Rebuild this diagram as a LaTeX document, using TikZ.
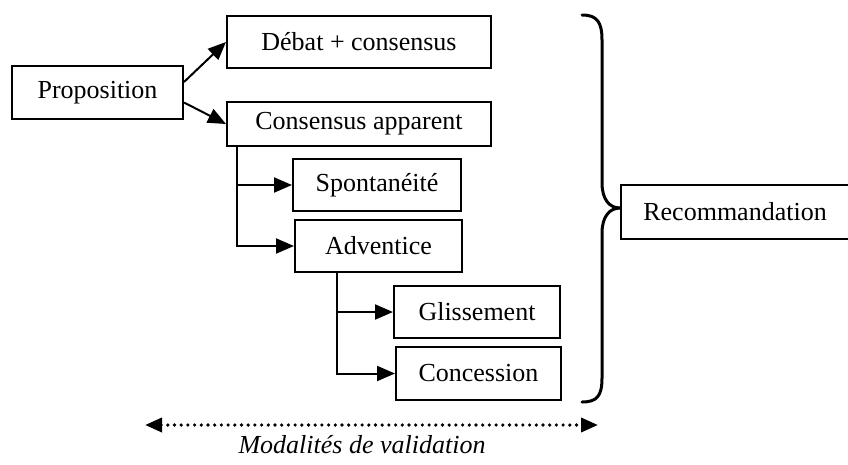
\documentclass[tikz,border=0pt]{standalone}
\usepackage{fontspec}
\setmainfont{Liberation Serif}
\usetikzlibrary{arrows.meta,calc}
\begin{document}
\begin{tikzpicture}[x=1pt,y=-1pt,
  box/.style={draw,line width=2pt,inner sep=0pt,minimum width=#1,anchor=center},
  lbl/.style={font=\fontsize{26}{30}\selectfont},
  tip/.style={-{Triangle[length=18pt,width=15pt]}},
  conn/.style={line width=2pt,tip},
  link/.style={line width=2pt}]
\useasboundingbox (0,0) rectangle (848,464);
\node[box=171pt,minimum height=53pt,lbl] (prop) at (97.5,92.5) {Proposition};
\node[box=264pt,minimum height=52pt,lbl] (debat) at (359,42) {Débat + consensus};
\node[box=264pt,minimum height=44pt,lbl] (capp) at (359,124) {Consensus apparent};
\node[box=168pt,minimum height=52pt,lbl] (spont) at (377,185) {Spontanéité};
\node[box=167pt,minimum height=52pt,lbl] (adv) at (378.5,246) {Adventice};
\node[box=166pt,minimum height=52pt,lbl] (gliss) at (477,312) {Glissement};
\node[box=165pt,minimum height=53pt,lbl] (conc) at (478.5,373.5) {Concession};
\node[inner sep=0pt,minimum width=232pt,minimum height=54pt] (rec) at (737,212) {};
\draw[link] (rec.north east) -- (rec.north west) -- (rec.south west) -- (rec.south east);
\node[lbl,anchor=west] (rectext) at ($(rec.west)+(19,0)$) {Recommandation};
% connectors
\draw[conn] ($(prop.east)+(0,-10.5)$) -- (debat.west);
\draw[conn] ($(prop.east)+(0,10)$) -- (capp.west);
\coordinate (c1) at ($(capp.south west)+(11,0)$);
\draw[conn] (c1) |- (adv.west);
\draw[conn] (c1 |- spont.west) -- (spont.west);
\coordinate (c2) at ($(adv.south west)+(43,0)$);
\draw[conn] (c2) |- (conc.west);
\draw[conn] (c2 |- gliss.west) -- (gliss.west);
% brace
\coordinate (btop) at (582,15);
\coordinate (btip) at (620,208);
\coordinate (bbot) at (582,402);
\draw[line width=3pt,line join=round,line cap=round] (btop) .. controls (597,15) and (602,22) .. (602,40) -- (602,183)
  .. controls (602,200) and (610,208) .. (btip);
\draw[line width=3pt,line join=round,line cap=round] (btip)
  .. controls (610,208) and (602,216) .. (602,233) -- (602,378)
  .. controls (602,396) and (597,402) .. (bbot);
% validation axis
\coordinate (dl) at (145,425);
\coordinate (dr) at (598,425);
\draw[line width=3.6pt,line cap=round,dash pattern=on 0pt off 6.7pt,
  {Triangle[length=17pt,width=14pt]}-{Triangle[length=17pt,width=14pt]}] (dl) -- (dr);
\node[lbl,font=\fontsize{26}{30}\selectfont\itshape] (modal) at (362,445) {Modalités de validation};
\end{tikzpicture}
\end{document}
